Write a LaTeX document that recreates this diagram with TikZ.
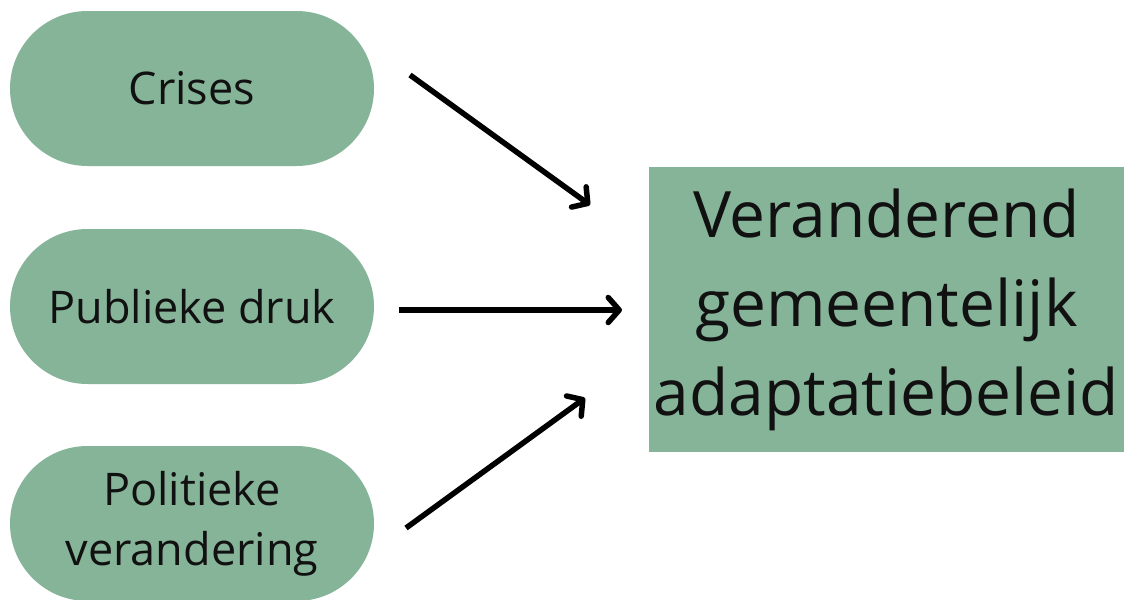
\documentclass[tikz,border=0pt]{standalone}
\usepackage{fontspec}
\setmainfont{Open Sans}
\usetikzlibrary{arrows.meta}
\definecolor{pillgreen}{HTML}{86B499}
\definecolor{inktext}{HTML}{111111}
\begin{document}
\begin{tikzpicture}[x=1pt,y=-1pt,
  pill/.style={fill=pillgreen, draw=none, rounded corners=77.5pt,
    minimum width=364pt, minimum height=155pt, inner sep=0pt,
    text=inktext, align=center, font=\fontsize{45}{60}\selectfont},
  bigbox/.style={fill=pillgreen, draw=none, minimum width=475pt,
    minimum height=285pt, inner sep=0pt, text=inktext, align=center,
    font=\fontsize{64}{89}\selectfont},
  conn/.style={line width=5.5pt, draw=black,
    -{Straight Barb[length=11pt,width=25pt,line width=5.5pt,round]}}]
\useasboundingbox (0,0) rectangle (1125,600);
\fill[white] (0,0) rectangle (1125,600);
\begin{scope}
\clip (0,0) rectangle (1125,600);
\node[pill] (crises) at (192,88.5) {Crises};
\node[pill] (druk) at (192,306.5) {Publieke druk};
\node[pill] (pol) at (192,523.5) {Politieke\\verandering};
\end{scope}
\node[bigbox] (beleid) at (886.5,309.5) {Veranderend\\gemeentelijk\\adaptatiebeleid};
\coordinate (s1) at (410,75);
\coordinate (e1) at (590,205);
\coordinate (s2) at (399,310);
\coordinate (e2) at (622,310);
\coordinate (s3) at (406,528);
\coordinate (e3) at (585,398);
\draw[conn] (s1) -- (e1);
\draw[conn] (s2) -- (e2);
\draw[conn] (s3) -- (e3);
\end{tikzpicture}
\end{document}
